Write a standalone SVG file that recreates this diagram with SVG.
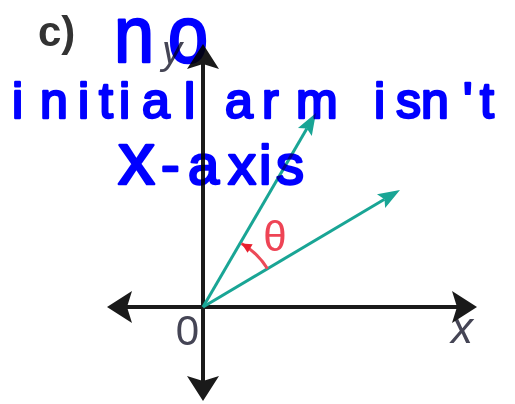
<svg xmlns="http://www.w3.org/2000/svg" width="515" height="404" viewBox="0 0 515 404">
<style>
.axis{stroke:#1a1a1a;stroke-width:4;fill:none}
.ray{stroke:#19a595;stroke-width:3;fill:none}
.arc{stroke:#ec4a58;stroke-width:3;fill:none}
.lbl{font-family:"Liberation Sans",Arial,sans-serif;fill:#454555}
.hw{font-family:"Liberation Sans",Arial,sans-serif;fill:#0000ff;stroke:#0000ff;stroke-width:2.5;stroke-linejoin:round;mix-blend-mode:multiply}
</style>
<defs>
<marker id="axhead" viewBox="-25 -16 27 32" refX="-20" refY="0" markerWidth="27" markerHeight="32" markerUnits="userSpaceOnUse" orient="auto-start-reverse">
<path d="M0,0 L-25,-16 L-20,0 L-25,16 Z" fill="#1a1a1a"/>
</marker>
<marker id="rayhead" viewBox="-23 -9 25 18" refX="-18" refY="0" markerWidth="25" markerHeight="18" markerUnits="userSpaceOnUse" orient="auto">
<path d="M0,0 L-22,-8 L-18,0 L-22,8 Z" fill="#19a595"/>
</marker>
<marker id="archead" viewBox="-11 -6 12 12" refX="0" refY="0" markerWidth="12" markerHeight="12" markerUnits="userSpaceOnUse" orient="auto">
<path d="M0,0 L-10,-5 L-10,5 Z" fill="#e8202e"/>
</marker>
</defs>

<g id="part-label">
<text x="38" y="46" font-family="Liberation Sans, Arial, sans-serif" font-weight="bold" font-size="42" fill="#333">c)</text>
</g>

<g id="axis-labels">
<text class="lbl" x="162" y="64" font-size="40" font-style="italic" fill="#5a4838">y</text>
<text class="lbl" x="187.5" y="345" font-size="42" text-anchor="middle">0</text>
<text class="lbl" x="462" y="343" font-size="44" font-style="italic" text-anchor="middle">x</text>
</g>

<g id="axes">
<line class="axis" x1="127" y1="307" x2="457" y2="307" marker-start="url(#axhead)" marker-end="url(#axhead)"/>
<line class="axis" x1="203" y1="64" x2="203" y2="381" marker-start="url(#axhead)" marker-end="url(#axhead)"/>
</g>

<g id="connectors">
<line class="ray" x1="203" y1="307" x2="306.9" y2="128.6" marker-end="url(#rayhead)"/>
<line class="ray" x1="203" y1="307" x2="384.5" y2="199.2" marker-end="url(#rayhead)"/>
</g>

<g id="angle">
<path class="arc" d="M267.5,268.7 A75,75 0 0,0 241.5,243.5" marker-end="url(#archead)"/>
<text x="275" y="251" font-family="Liberation Sans, Arial, sans-serif" font-size="42" fill="#ee4455" text-anchor="middle">θ</text>
</g>

<g id="handwriting">
<text class="hw" transform="translate(114,62) scale(0.9,1)" font-size="80" x="0 60">no</text>
<text class="hw" y="118" font-size="50" x="12 40 78 99 119 142 184 200 225 262 296 350 374 396 421 463 480">initial arm isn't</text>
<text class="hw" y="184" font-size="56"><tspan x="118" font-size="74">x</tspan><tspan x="161">-</tspan><tspan x="188">a</tspan><tspan x="228">x</tspan><tspan x="259">i</tspan><tspan x="276">s</tspan></text>
</g>
</svg>
